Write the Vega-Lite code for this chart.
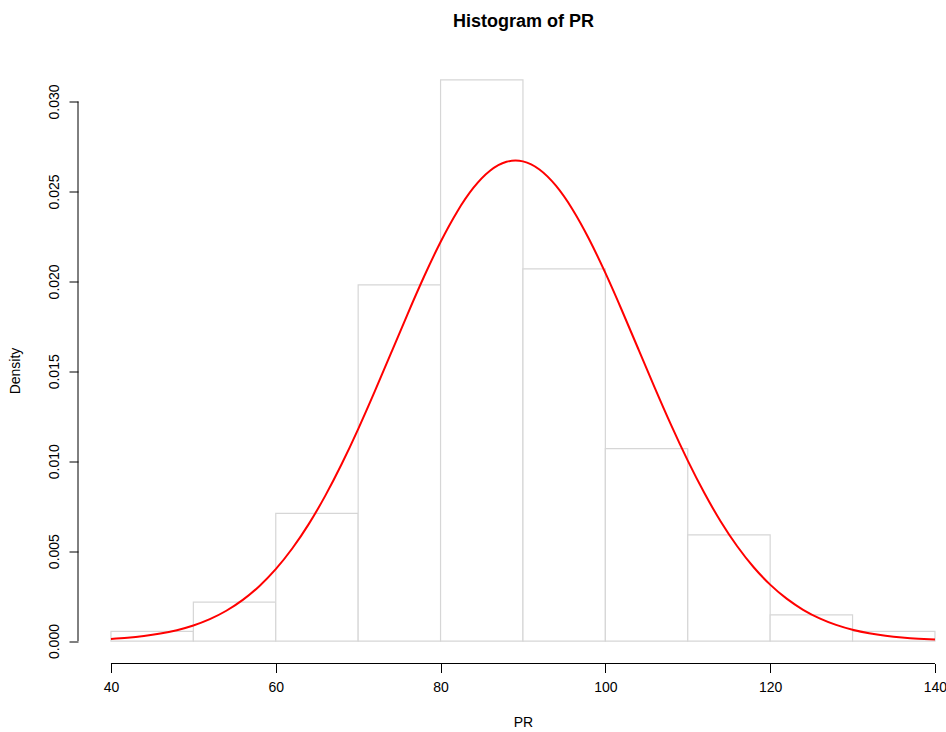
{
  "$schema": "https://vega.github.io/schema/vega-lite/v6.json",
  "autosize": "none",
  "width": 868,
  "height": 606,
  "padding": {"left": 78, "top": 57.5, "right": 0, "bottom": 68.5},
  "background": "white",
  "title": {
    "text": "Histogram of PR",
    "font": "Liberation Sans",
    "fontSize": 18,
    "fontWeight": "bold",
    "color": "black",
    "anchor": "start",
    "dx": 445,
    "offset": 27
  },
  "config": {
    "view": {"stroke": null},
    "axis": {"labelFont": "Liberation Sans", "titleFont": "Liberation Sans", "labelColor": "black", "titleColor": "black", "tickColor": "black", "grid": false, "domain": false, "titleFontWeight": "normal"}
  },
  "datasets": {
    "bins": [
      {"bin_start": 40, "bin_end": 50, "density": 0.00054},
      {"bin_start": 50, "bin_end": 60, "density": 0.00217},
      {"bin_start": 60, "bin_end": 70, "density": 0.0071},
      {"bin_start": 70, "bin_end": 80, "density": 0.0198},
      {"bin_start": 80, "bin_end": 90, "density": 0.0312},
      {"bin_start": 90, "bin_end": 100, "density": 0.0207},
      {"bin_start": 100, "bin_end": 110, "density": 0.0107},
      {"bin_start": 110, "bin_end": 120, "density": 0.0059},
      {"bin_start": 120, "bin_end": 130, "density": 0.00146},
      {"bin_start": 130, "bin_end": 140, "density": 0.00054}
    ],
    "curve": [
      {"PR": 40, "density": 0.0001197},
      {"PR": 42, "density": 0.0001844},
      {"PR": 44, "density": 0.0002789},
      {"PR": 46, "density": 0.0004142},
      {"PR": 48, "density": 0.0006043},
      {"PR": 50, "density": 0.0008661},
      {"PR": 52, "density": 0.0012191},
      {"PR": 54, "density": 0.0016854},
      {"PR": 56, "density": 0.0022886},
      {"PR": 58, "density": 0.0030522},
      {"PR": 60, "density": 0.0039986},
      {"PR": 62, "density": 0.0051452},
      {"PR": 64, "density": 0.0065023},
      {"PR": 66, "density": 0.0080721},
      {"PR": 68, "density": 0.0098431},
      {"PR": 70, "density": 0.011788},
      {"PR": 72, "density": 0.013867},
      {"PR": 74, "density": 0.016022},
      {"PR": 76, "density": 0.018182},
      {"PR": 78, "density": 0.020269},
      {"PR": 80, "density": 0.02219},
      {"PR": 82, "density": 0.023863},
      {"PR": 84, "density": 0.025206},
      {"PR": 86, "density": 0.02615},
      {"PR": 88, "density": 0.026648},
      {"PR": 90, "density": 0.026671},
      {"PR": 92, "density": 0.026221},
      {"PR": 94, "density": 0.025319},
      {"PR": 96, "density": 0.024013},
      {"PR": 98, "density": 0.02237},
      {"PR": 100, "density": 0.020469},
      {"PR": 102, "density": 0.018395},
      {"PR": 104, "density": 0.016239},
      {"PR": 106, "density": 0.01408},
      {"PR": 108, "density": 0.011991},
      {"PR": 110, "density": 0.01003},
      {"PR": 112, "density": 0.008241},
      {"PR": 114, "density": 0.00665},
      {"PR": 116, "density": 0.005271},
      {"PR": 118, "density": 0.004104},
      {"PR": 120, "density": 0.003138},
      {"PR": 122, "density": 0.002357},
      {"PR": 124, "density": 0.001739},
      {"PR": 126, "density": 0.00126},
      {"PR": 128, "density": 0.000897},
      {"PR": 130, "density": 0.000627},
      {"PR": 132, "density": 0.00043},
      {"PR": 134, "density": 0.00029},
      {"PR": 136, "density": 0.000192},
      {"PR": 138, "density": 0.000125},
      {"PR": 140, "density": 0.00008}
    ]
  },
  "layer": [
    {
      "data": {"name": "bins"},
      "mark": {"type": "rect", "fill": "white", "stroke": "#d6d6d6", "strokeWidth": 1.2},
      "encoding": {
        "x": {
          "field": "bin_start", "type": "quantitative",
          "scale": {"domain": [36, 141.34], "nice": false, "zero": false},
          "axis": {
            "values": [40, 60, 80, 100, 120, 140],
            "tickSize": 9, "labelFontSize": 14, "labelPadding": 8,
            "title": "PR", "titleFontSize": 14,
            "titleX": 445, "titleY": 59, "titleBaseline": "middle", "titleAnchor": null
          }
        },
        "x2": {"field": "bin_end"},
        "y": {
          "field": "density", "type": "quantitative",
          "scale": {"domain": [-0.001248, 0.032448], "nice": false, "zero": false},
          "axis": {
            "values": [0, 0.005, 0.01, 0.015, 0.02, 0.025, 0.03],
            "format": ".3f",
            "tickSize": 9, "labelFontSize": 14, "labelAngle": -90, "labelAlign": "center", "labelBaseline": "bottom", "labelPadding": 8,
            "title": "Density", "titleFontSize": 14, "titleAngle": -90,
            "titleX": -63, "titleY": 313, "titleBaseline": "middle", "titleAnchor": null
          }
        },
        "y2": {"datum": 0}
      }
    },
    {
      "data": {"name": "curve"},
      "mark": {"type": "line", "color": "#ff0000", "strokeWidth": 2, "interpolate": "natural"},
      "encoding": {
        "x": {"field": "PR", "type": "quantitative"},
        "y": {"field": "density", "type": "quantitative"}
      }
    },
    {
      "data": {"values": [{}]},
      "mark": {"type": "rule", "color": "black", "strokeWidth": 1},
      "encoding": {
        "x": {"datum": 40},
        "x2": {"datum": 140},
        "y": {"datum": -0.001248}
      }
    },
    {
      "data": {"values": [{}]},
      "mark": {"type": "rule", "color": "black", "strokeWidth": 1},
      "encoding": {
        "x": {"datum": 36},
        "y": {"datum": 0},
        "y2": {"datum": 0.03}
      }
    }
  ]
}
